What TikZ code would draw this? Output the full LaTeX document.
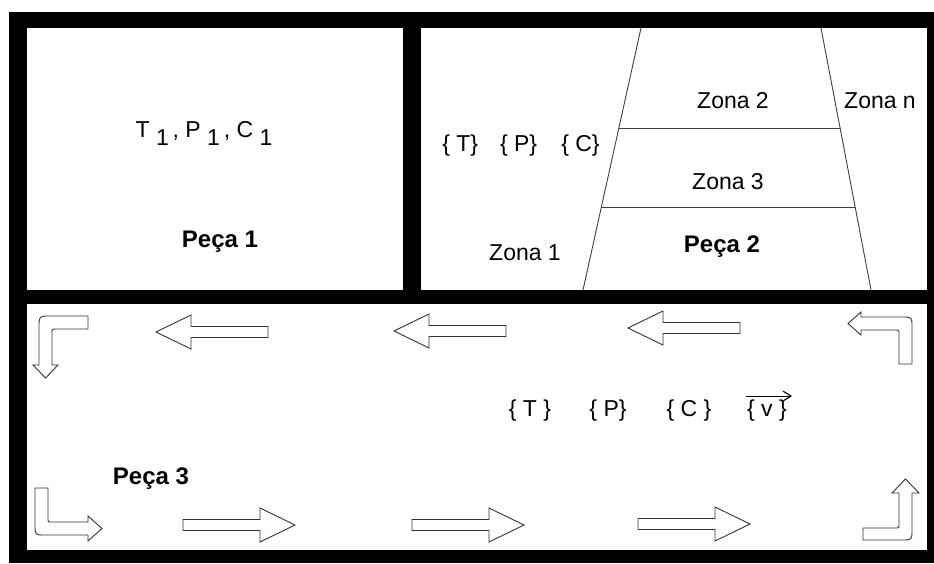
\documentclass[tikz,border=0pt]{standalone}
\usepackage{fontspec}
\setmainfont{Liberation Sans}
\usetikzlibrary{arrows.meta,calc}
\tikzset{every node/.style={inner sep=0pt, font=\fontsize{23}{27}\selectfont},
  bold/.style={font=\fontsize{24}{28}\selectfont\bfseries},
  arrowline/.style={draw=black!80, fill=white, line width=0.9pt, line join=miter},
  zoneline/.style={draw=black!75, line width=0.9pt},
  blk/.pic={\draw[arrowline] (0,-5.5) -- (77,-5.5) -- (77,-17) -- (112,0) -- (77,17) -- (77,5.5) -- (0,5.5) -- cycle;}}
\newcommand\low[1]{\lower8pt\hbox{#1}}

\begin{document}
\begin{tikzpicture}[x=1pt,y=-1pt]
       \useasboundingbox (0,0) rectangle (934,563);
       % frame and the three panels
       \fill[black] (9,12) rectangle (934,563);
       \fill[white] (27,28) rectangle (403,290);
       \fill[white] (421,28) rectangle (927,290);
       \fill[white] (27,304) rectangle (927,550);

       % Peca 1
       \node (tpc1) at (204,133) {T \low{1}\,, P \low{1}\,, C \low{1}};
       \node[bold] (peca1) at (220,242) {Peça 1};

       % Peca 2: zones
       \coordinate (tl) at (641,28);  \coordinate (bl) at (583,290);
       \coordinate (tr) at (821,28);  \coordinate (br) at (871,290);
       \draw[zoneline] (tl) -- (bl);
       \draw[zoneline] (tr) -- (br);
       \draw[zoneline] ($(tl)!0.382!(bl)$) -- ($(tr)!0.382!(br)$);
       \draw[zoneline] ($(tl)!0.683!(bl)$) -- ($(tr)!0.683!(br)$);
       \node (tpc2) at (521,146) {\{ T\}\hspace{0.95em}\{ P\}\hspace{1.05em}\{ C\}};
       \node (zona2) at (733,101) {Zona 2};
       \node (zonan) at (880,101) {Zona n};
       \node (zona3) at (728,182) {Zona 3};
       \node (zona1) at (525,253) {Zona 1};
       \node[bold] (peca2) at (722,247) {Peça 2};

       % Peca 3: flow arrows
       \pic[rotate=180] at (268,332) {blk};
       \pic[rotate=180] at (506,331) {blk};
       \pic[rotate=180] at (740,328) {blk};
       \pic at (183,525) {blk};
       \pic at (412,525) {blk};
       \pic at (638,524) {blk};
       \draw[arrowline] (88,316) -- (50,316) .. controls (39,316) .. (39,327) -- (39,365)
         -- (33,365) -- (45.5,378) -- (58,365) -- (52,365) -- (52,333)
         .. controls (52,329) .. (56,329) -- (88,329) -- cycle;
       \draw[arrowline] (848,323.5) -- (861,312) -- (861,317) -- (902,317)
         .. controls (912,317) .. (912,327) -- (912,364) -- (899,364) -- (899,334)
         .. controls (899,330) .. (895,330) -- (861,330) -- (861,335) -- cycle;
       \draw[arrowline] (35,488) -- (48,488) -- (48,518) .. controls (48,522) .. (52,522)
         -- (88,522) -- (88,516) -- (102,528.5) -- (88,541) -- (88,535) -- (45,535)
         .. controls (35,535) .. (35,525) -- cycle;
       \draw[arrowline] (905.5,479) -- (919,493) -- (912,493) -- (912,530)
         .. controls (912,540) .. (902,540) -- (863,540) -- (863,528) -- (895,528)
         .. controls (899,528) .. (899,524) -- (899,493) -- (892,493) -- cycle;
       \node (t3) at (530,411) {\{ T \}};
       \node (p3) at (608,411) {\{ P\}};
       \node (c3) at (689,411) {\{ C \}};
       \node (v3) at (767,411) {\{ v \}};
       \draw[line width=1.1pt, -{Straight Barb[length=8pt,width=10pt]}] ([xshift=-1pt,yshift=4pt]v3.north west) -- ([xshift=5pt,yshift=4pt]v3.north east);
       \node[bold] (peca3) at (151,479) {Peça 3};
\end{tikzpicture}
\end{document}
